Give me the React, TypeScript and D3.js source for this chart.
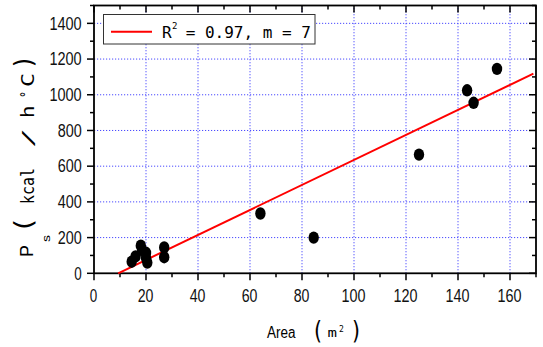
import React from "react";
import * as d3 from "d3";

const areas = [14.5, 16, 18, 18.5, 20, 20.5, 20, 27, 27, 64, 84.5, 125, 143.5, 146, 155];
const powers = [65, 95, 155, 130, 115, 60, 85, 145, 90, 335, 200, 665, 1025, 955, 1145];

// linear fit shown in red
const fitSlope = 7.0;
const fitIntercept = -65;
const fitFrom = 9.3;
const fitTo = 169;

const xTicks = [0, 20, 40, 60, 80, 100, 120, 140, 160];
const yTicks = [0, 200, 400, 600, 800, 1000, 1200, 1400];
const legendLabel = " = 0.97, m = 7";

const W = 543;
const H = 347;
const mono = "DejaVu Sans Mono";
const sans = "Liberation Sans, Arial";
const paren = "DejaVu Sans";

const App = () => {
  const x = d3.scaleLinear().domain([0, 170]).range([94, 536]);
  const y = d3.scaleLinear().domain([0, 1500]).range([273.3, 5.5]);

  const xMinor = d3.range(0, 171, 10);
  const yMinor = d3.range(0, 1501, 100);

  const line = d3
    .line<number>()
    .x((d) => x(d))
    .y((d) => y(fitSlope * d + fitIntercept));

  const grid = "#4a4aff";

  // pieces of the rotated y label: [text, start (screen y bottom), length, baseline x, font, size]
  const yLabel: [string, number, number, number, string, number][] = [
    ["P", 257, 12, 33, sans, 18],
    ["s", 242, 7, 50, sans, 11],
    ["(", 230, 11, 32, paren, 24],
    ["kcal", 204, 36, 33.5, mono, 17.5],
    ["/", 148, 20, 34, mono, 15],
    ["h", 118, 12.5, 33.5, mono, 17.5],
    ["°", 98, 7, 32, mono, 16],
    ["C", 87, 14, 33.5, mono, 17.5],
    [")", 67, 9, 32, paren, 24],
  ];

  return (
    <svg
      width={W}
      height={H}
      style={{ position: "absolute", left: 0, top: 0, background: "#fff" }}
    >
      {/* grid */}
      <g stroke={grid} strokeWidth={1} strokeDasharray="1.2 1.8">
        {xTicks.slice(1).map((t) => (
          <line key={"gx" + t} x1={x(t)} x2={x(t)} y1={y(0)} y2={y(1500)} />
        ))}
        {yTicks.slice(1).map((t) => (
          <line key={"gy" + t} x1={x(0)} x2={x(170)} y1={y(t)} y2={y(t)} />
        ))}
      </g>

      {/* ticks */}
      <g stroke="#000" strokeWidth={1.5}>
        {xMinor.map((t) => {
          const len = t % 20 === 0 ? 7 : 4;
          return (
            <g key={"tx" + t}>
              <line x1={x(t)} x2={x(t)} y1={y(0)} y2={y(0) + len} />
              <line x1={x(t)} x2={x(t)} y1={y(1500)} y2={y(1500) + len} />
            </g>
          );
        })}
        {yMinor.map((t) => {
          const len = t % 200 === 0 ? 7 : 4;
          return (
            <g key={"ty" + t}>
              <line x1={x(0)} x2={x(0) - len} y1={y(t)} y2={y(t)} />
              <line x1={x(170)} x2={x(170) - len} y1={y(t)} y2={y(t)} />
            </g>
          );
        })}
      </g>

      {/* frame */}
      <rect
        x={x(0)}
        y={y(1500)}
        width={x(170) - x(0)}
        height={y(0) - y(1500)}
        fill="none"
        stroke="#000"
        strokeWidth={1.8}
      />

      {/* tick labels */}
      <g fontFamily={sans} fontSize={17.5} fill="#111">
        {xTicks.map((t) => {
          const s = String(t);
          return (
            <text
              key={"lx" + t}
              x={x(t) - (s.length * 8.27) / 2}
              y={302}
              textLength={s.length * 8.27 - 0.8}
              lengthAdjust="spacingAndGlyphs"
            >
              {s}
            </text>
          );
        })}
        {yTicks.map((t) => {
          const s = String(t);
          return (
            <text
              key={"ly" + t}
              x={82.5 - s.length * 8.27}
              y={y(t) + 6.2}
              textLength={s.length * 8.27 - 0.8}
              lengthAdjust="spacingAndGlyphs"
            >
              {s}
            </text>
          );
        })}
      </g>

      {/* fit line */}
      <path d={line([fitFrom, fitTo]) || ""} fill="none" stroke="#ff0000" strokeWidth={2} />

      {/* points */}
      <g fill="#000">
        {areas.map((a, i) => (
          <ellipse key={"p" + i} cx={x(a)} cy={y(powers[i])} rx={5.2} ry={6.2} />
        ))}
      </g>

      {/* legend */}
      <rect x={103.5} y={14.5} width={211.5} height={29.5} fill="#fff" stroke="#333" strokeWidth={1} />
      <line x1={111} x2={152} y1={31.7} y2={31.7} stroke="#ff0000" strokeWidth={2} />
      <g fontFamily={mono} fontSize={16} fill="#000">
        <text x={162} y={38.3}>R</text>
        <text x={172} y={29} fontSize={9}>2</text>
        <text x={176} y={38.3} xmlSpace="preserve" style={{ whiteSpace: "pre" }}>
          {legendLabel}
        </text>
      </g>

      {/* x axis title */}
      <g fill="#000">
        <text x={267} y={337.5} fontFamily={sans} fontSize={16} textLength={28.5} lengthAdjust="spacingAndGlyphs">
          Area
        </text>
        <text x={314} y={339} fontFamily={paren} fontSize={24} textLength={8} lengthAdjust="spacingAndGlyphs">
          (
        </text>
        <text x={327.5} y={337} fontFamily={mono} fontSize={12.5} textLength={9.5} lengthAdjust="spacingAndGlyphs">
          m
        </text>
        <text x={339} y={332} fontFamily={mono} fontSize={8}>
          2
        </text>
        <text x={352} y={339} fontFamily={paren} fontSize={24} textLength={8} lengthAdjust="spacingAndGlyphs">
          )
        </text>
      </g>

      {/* y axis title */}
      <g transform="rotate(-90)" fill="#000">
        {yLabel.map(([s, bottom, len, base, font, size], i) => (
          <text
            key={"yl" + i}
            x={-bottom}
            y={base}
            fontFamily={font}
            fontSize={size}
            textLength={len}
            lengthAdjust="spacingAndGlyphs"
          >
            {s}
          </text>
        ))}
      </g>
    </svg>
  );
};

export default App;
